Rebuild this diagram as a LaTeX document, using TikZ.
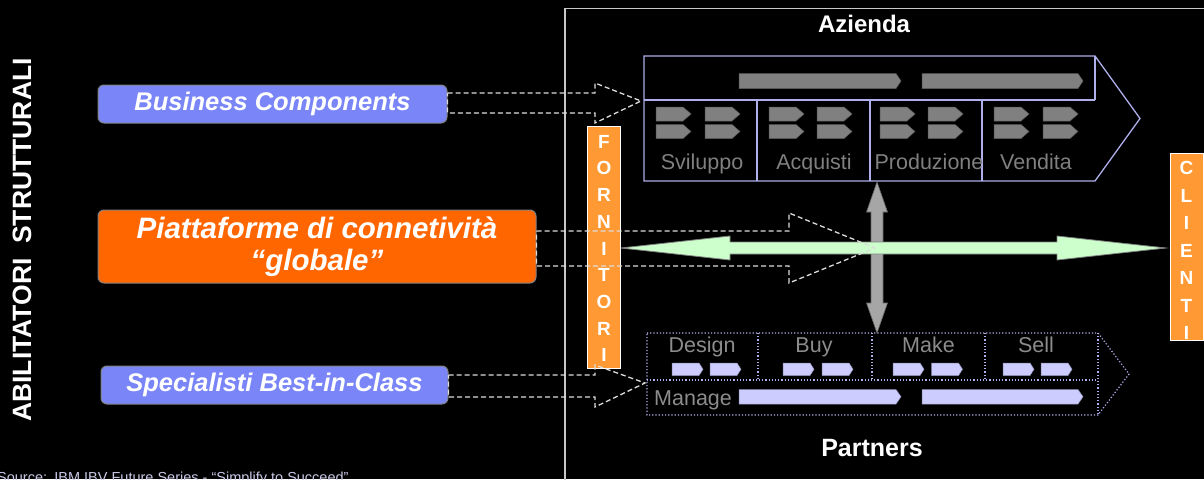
\documentclass[tikz,border=0pt]{standalone}
\usepackage{fontspec}
\setmainfont{Liberation Sans}
\definecolor{periw}{RGB}{122,134,248}
\definecolor{orng}{RGB}{255,102,0}
\definecolor{lorng}{RGB}{255,153,51}
\definecolor{lav}{RGB}{204,204,255}
\definecolor{lavline}{RGB}{175,175,235}
\definecolor{gtext}{RGB}{128,128,128}
\definecolor{gtextb}{RGB}{140,140,140}
\definecolor{gbar}{RGB}{128,128,128}
\definecolor{lgreen}{RGB}{204,255,204}
\definecolor{garrow}{RGB}{166,166,166}
\definecolor{dashc}{RGB}{220,220,220}
\definecolor{srcc}{RGB}{200,200,230}
\definecolor{framec}{RGB}{200,200,200}
\tikzset{
  enabler/.style={draw=gray, line width=1pt, rounded corners=6pt, inner sep=0pt, text=white,
    font=\fontsize{25.5}{32}\selectfont\bfseries\itshape, align=center},
  dasharr/.style={draw=dashc, line width=1.3pt, dash pattern=on 5pt off 3pt},
  grayshape/.style={fill=gbar, draw=gbar!70!black, line width=0.5pt},
  lavshape/.style={fill=lav, draw=lav!70!black, line width=0.5pt},
  phaselbl/.style={text=gtext, font=\fontsize{21.5}{24}\selectfont, inner sep=0pt, anchor=base},
  phaselblb/.style={text=gtextb, font=\fontsize{21.5}{24}\selectfont, inner sep=0pt, anchor=base},
  letter/.style={text=white, font=\fontsize{19}{20}\selectfont\bfseries, inner sep=0pt},
  title/.style={text=white, font=\fontsize{25}{28}\selectfont\bfseries, inner sep=0pt},
  sidebox/.style={fill=lorng, draw=white, line width=1pt}
}
\newcommand{\chev}[6]{% style, x, y, w, h, tip
  \path[#1] (#2,#3) -- ({#2+#4-#6},#3) -- ({#2+#4},{#3+#5/2}) -- ({#2+#4-#6},{#3+#5}) -- (#2,{#3+#5}) -- cycle;}
\begin{document}
\begin{tikzpicture}[x=1pt,y=-1pt]
\useasboundingbox (0,0) rectangle (1204,479);
\fill[black] (0,0) rectangle (1204,479);
% frame
\draw[framec, line width=1.5pt] (565,490) -- (565,8.5) -- (1215,8.5);
\node[title, font=\fontsize{24}{28}\selectfont\bfseries] (azienda) at (864,24) {Azienda};
\node[title] (partners) at (872,448) {Partners};
\node[title, rotate=90, font=\fontsize{26.5}{28}\selectfont\bfseries] (abil) at (22,240) {ABILITATORI\hspace{0.55em}STRUTTURALI};
\node[anchor=north west, text=srcc, font=\fontsize{14.5}{15}\selectfont, inner sep=0pt] (src) at (-3,471.5) {Source:\hspace{0.5em}IBM IBV Future Series - “Simplify to Succeed”};

% Azienda chevron
\draw[lavline, line width=1.3pt] (644,56) -- (1095,56) -- (1140,118.5) -- (1095,181) -- (644,181) -- cycle;
\draw[lavline, line width=1.3pt] (644,100) -- (1095,100) (1095,56) -- (1095,100);
\foreach \x in {757,870,982} \draw[lavline, line width=1.3pt] (\x,100) -- (\x,181);
\chev{grayshape}{739}{73.5}{162}{15}{5}
\chev{grayshape}{922}{73.5}{161}{15}{5}
\foreach \x in {656,705,769,817,880,928,994,1043}{
  \chev{grayshape}{\x}{107}{35}{14}{8}
  \chev{grayshape}{\x}{124.5}{35}{14}{8}
}
\node[phaselbl] (svil) at (702,169) {Sviluppo};
\node[phaselbl] (acq) at (814,169) {Acquisti};
\node[phaselbl] (prod) at (929,169) {Produzione};
\node[phaselbl] (vend) at (1036,169) {Vendita};

% Partners chevron
\draw[lavline, line width=1.2pt, dotted] (647,333) -- (1098,333) -- (1129,374) -- (1098,415) -- (647,415) -- cycle;
\draw[lavline, line width=1.2pt, dotted] (647,380) -- (1098,380) (1098,333) -- (1098,415);
\foreach \x in {758,872,985} \draw[lavline, line width=1.2pt, dotted] (\x,333) -- (\x,380);
\foreach \x in {672,710,783,822,893,931.5,1003,1041}{
  \chev{lavshape}{\x}{363}{31}{12.5}{4}
}
\chev{lavshape}{739}{389.5}{162}{14.5}{5}
\chev{lavshape}{922}{389.5}{161}{14.5}{5}
\node[phaselblb] (design) at (702,352.5) {Design};
\node[phaselblb] (buy) at (814,352.5) {Buy};
\node[phaselblb] (make) at (928.5,352.5) {Make};
\node[phaselblb] (sell) at (1036,352.5) {Sell};
\node[phaselblb, anchor=base west] (manage) at (654,405) {Manage};

% vertical gray double arrow
\coordinate (vtop) at (877,182);
\coordinate (vbot) at (877,333);
\path[fill=garrow, draw=gray!80!black, line width=0.6pt]
  (vtop) -- (887.5,212) -- (883,212) -- (883,303) -- (887.5,303) -- (vbot)
  -- (866.5,303) -- (871,303) -- (871,212) -- (866.5,212) -- cycle;

% green double arrow
\coordinate (gl) at (621,248);
\coordinate (gr) at (1166,248);
\path[fill=lgreen, draw=gray, line width=0.8pt]
  (gl) -- (730,236) -- (730,242) -- (1057,242) -- (1057,236) -- (gr)
  -- (1057,260) -- (1057,254) -- (730,254) -- (730,260) -- cycle;

% side boxes
\path[sidebox] (587.3,126.7) rectangle (620.7,368.3);
\foreach \l [count=\i from 0] in {F,O,R,N,I,T,O,R,I}
  \node[letter] (forn\i) at (604,{141.7+26.7*\i}) {\l};
\path[sidebox] (1170,153.3) rectangle (1203,340);
\foreach \l [count=\i from 0] in {C,L,I,E,N,T,I}
  \node[letter] (cli\i) at (1186.5,{168.3+27.5*\i}) {\l};

% enabler boxes
\node[enabler, fill=periw, minimum width=349pt, minimum height=38pt] (bc) at (272.5,104) {Business Components};
\node[enabler, fill=orng, minimum width=438pt, minimum height=73pt, font=\fontsize{29.5}{32}\selectfont\bfseries\itshape] (pc) at (317,246.5) {Piattaforme di connetività\\“globale”};
\node[enabler, fill=periw, minimum width=347pt, minimum height=38pt] (sp) at (274.5,385) {Specialisti Best-in-Class};

% dashed block arrows
\draw[dasharr] (bc.east |- 0,93) -- (595,93) -- (595,83) -- (641,101) -- (595,123) -- (595,113) -- (bc.east |- 0,113) -- cycle;
\draw[dasharr] (pc.east |- 0,231) -- (789,231) -- (789,213) -- (875,248) -- (789,283) -- (789,266) -- (pc.east |- 0,266) -- cycle;
\draw[dasharr] (sp.east |- 0,375) -- (595,375) -- (595,365) -- (645,383) -- (595,407) -- (595,397) -- (sp.east |- 0,397) -- cycle;
\end{tikzpicture}
\end{document}
